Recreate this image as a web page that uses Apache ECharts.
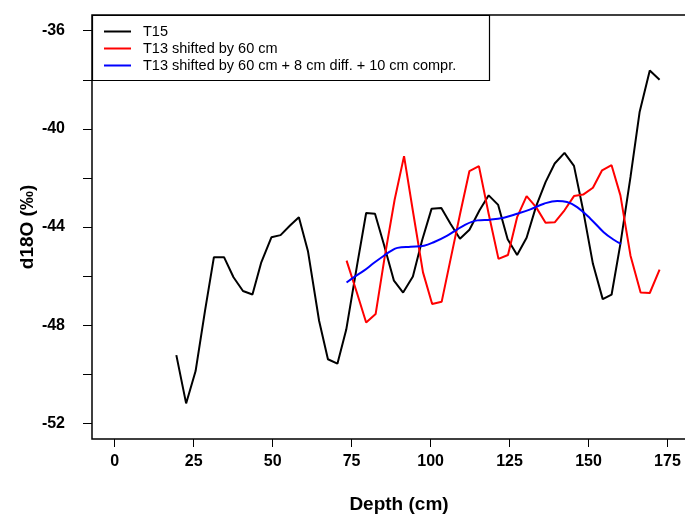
<!DOCTYPE html>
<html>
<head>
<meta charset="utf-8">
<script src="https://cdn.jsdelivr.net/npm/echarts@6/dist/echarts.min.js"></script>
<style>html,body{margin:0;padding:0;background:#fff}#c{width:685px;height:517px}</style>
</head>
<body>
<div id="c"></div>
<script>
// Depth (cm) and d18O (permil) values
const t15Depth = [19.5,22.6,25.6,28.6,31.4,34.6,37.6,40.6,43.6,46.4,49.6,52.5,55.5,58.3,61.2,64.7,67.5,70.5,73.3,76.8,79.6,82.4,85.2,88.4,91.3,94.4,97.3,100.3,103.4,106.3,109.3,112.3,115.5,118.4,121.4,124.4,127.4,130.4,133.4,136.4,139.3,142.4,145.4,148.3,151.4,154.5,157.3,160.1,163.3,166.2,169.4,172.5];
const t15Val   = [-49.22,-51.19,-49.87,-47.4,-45.23,-45.23,-46.05,-46.61,-46.75,-45.44,-44.42,-44.33,-43.94,-43.6,-45.0,-47.82,-49.39,-49.57,-48.18,-45.5,-43.43,-43.46,-44.7,-46.19,-46.67,-46.02,-44.55,-43.26,-43.23,-43.87,-44.48,-44.11,-43.32,-42.71,-43.1,-44.5,-45.14,-44.44,-43.16,-42.17,-41.41,-40.98,-41.51,-43.32,-45.5,-46.94,-46.76,-44.69,-41.96,-39.3,-37.62,-38.0];

const t13Depth = [73.4,76.6,79.6,82.6,85.5,88.6,91.6,94.5,97.6,100.5,103.5,106.3,109.4,112.3,115.3,118.4,121.5,124.5,127.4,130.4,133.4,136.4,139.3,142.4,145.4,148.3,151.4,154.3,157.3,160.1,163.3,166.5,169.4,172.5];
const t13Val   = [-45.37,-46.65,-47.89,-47.55,-45.2,-42.9,-41.11,-43.43,-45.85,-47.14,-47.05,-45.33,-43.43,-41.72,-41.52,-43.47,-45.3,-45.14,-43.6,-42.74,-43.19,-43.83,-43.81,-43.32,-42.74,-42.68,-42.4,-41.69,-41.48,-42.71,-45.17,-46.67,-46.69,-45.74];

const corrDepth = [73.4,76,78.9,82,85.2,87.5,89.5,93.7,97.9,101,105.3,110.5,114.8,119,123.2,127.4,131.6,135.9,140.1,143.2,146.4,150.6,154.8,158,160.3];
const corrVal   = [-46.26,-46.02,-45.78,-45.47,-45.17,-44.97,-44.85,-44.8,-44.76,-44.62,-44.35,-43.94,-43.73,-43.7,-43.62,-43.46,-43.28,-43.05,-42.94,-42.98,-43.19,-43.66,-44.21,-44.52,-44.69];

const xTicks = [0,25,50,75,100,125,150,175];
const yTicks = [-52,-50,-48,-46,-44,-42,-40,-38,-36];
const yLabels = [-52,-48,-44,-40,-36];

const names = ['T15','T13 shifted by 60 cm','T13 shifted by 60 cm + 8 cm diff. + 10 cm compr.'];

function pairs(xs, ys){ return xs.map((x,i)=>[x, ys[i]]); }

const chart = echarts.init(document.getElementById('c'), null, {renderer:'canvas'});
const FONT = 'Liberation Sans, Arial, sans-serif';
chart.setOption({
  animation:false,
  backgroundColor:'#fff',
  grid:{left:92, top:15, width:614, height:424, outerBoundsMode:'none', containLabel:false,
        show:true, borderColor:'#000', borderWidth:1.5, backgroundColor:'transparent'},
  xAxis:{
    type:'value', min:-7.2, max:187.2,
    axisLine:{show:false, onZero:false},
    splitLine:{show:false},
    axisTick:{show:true, customValues:xTicks, length:8, lineStyle:{color:'#000', width:1}},
    axisLabel:{customValues:xTicks, margin:15, color:'#000', fontFamily:FONT, fontWeight:'bold', fontSize:16}
  },
  yAxis:{
    type:'value', min:-52.64, max:-35.36,
    axisLine:{show:false, onZero:false},
    splitLine:{show:false},
    axisTick:{show:true, customValues:yTicks, length:9, lineStyle:{color:'#000', width:1}},
    axisLabel:{customValues:yLabels, margin:27, color:'#000', fontFamily:FONT, fontWeight:'bold', fontSize:16}
  },
  legend:{
    show:true, orient:'vertical', left:104, top:24, padding:0, itemWidth:27, itemHeight:2, itemGap:2,
    icon:'rect', selectedMode:false,
    textStyle:{fontFamily:FONT, fontSize:14.5, color:'#000', padding:[0,0,0,7]},
    data:names
  },
  graphic:[
    {type:'rect', shape:{x:92.5, y:15.5, width:397, height:65}, style:{fill:'transparent', stroke:'#000', lineWidth:1.2}, z:0},
    {type:'text', style:{text:'Depth (cm)', x:399, y:505, fill:'#000', font:'bold 19px '+FONT, textAlign:'center', textVerticalAlign:'middle'}},
    {type:'text', style:{text:'d18O (‰)', x:0, y:0, fill:'#000', font:'bold 19px '+FONT, textAlign:'center', textVerticalAlign:'middle'}, x:28, y:227, rotation:Math.PI/2}
  ],
  series:[
    {name:names[0], type:'line', data:pairs(t15Depth,t15Val), showSymbol:false, symbol:'none', lineStyle:{color:'#000', width:2}, itemStyle:{color:'#000'}, z:3},
    {name:names[1], type:'line', data:pairs(t13Depth,t13Val), showSymbol:false, symbol:'none', lineStyle:{color:'#ff0000', width:2}, itemStyle:{color:'#ff0000'}, z:4},
    {name:names[2], type:'line', data:pairs(corrDepth,corrVal), showSymbol:false, symbol:'none', smooth:0.4, lineStyle:{color:'#0000ff', width:2}, itemStyle:{color:'#0000ff'}, z:5}
  ]
});
</script>
</body>
</html>
